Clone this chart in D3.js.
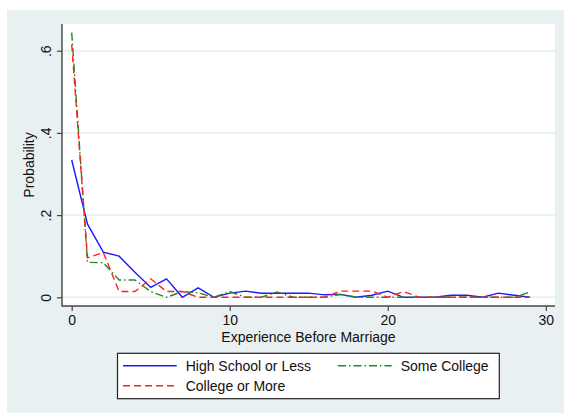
<!DOCTYPE html>
<html>
<head>
<meta charset="utf-8">
<script src="https://cdn.jsdelivr.net/npm/d3@7"></script>
<style>
  html, body { margin: 0; padding: 0; background: #ffffff; }
  svg { display: block; font-family: "Liberation Sans", Arial, sans-serif; }
</style>
</head>
<body>
<svg id="chart" width="564" height="413"></svg>
<script>
// Experience before marriage (years)
const experience = d3.range(0, 30);

// Probability by education group
const highSchoolOrLess = [0.334, 0.178, 0.110, 0.100, 0.061, 0.024, 0.045, 0.000, 0.023, 0.000,
                          0.010, 0.015, 0.010, 0.010, 0.010, 0.010, 0.006, 0.007, 0.000, 0.005,
                          0.015, 0.000, 0.000, 0.000, 0.005, 0.005, 0.000, 0.010, 0.005, 0.000];
const someCollege      = [0.644, 0.085, 0.084, 0.042, 0.042, 0.014, 0.000, 0.014, 0.011, 0.000,
                          0.014, 0.000, 0.000, 0.013, 0.000, 0.000, 0.000, 0.007, 0.000, 0.000,
                          0.000, 0.000, 0.000, 0.000, 0.000, 0.000, 0.000, 0.000, 0.000, 0.013];
const collegeOrMore    = [0.615, 0.096, 0.109, 0.014, 0.014, 0.045, 0.014, 0.014, 0.000, 0.000,
                          0.000, 0.000, 0.000, 0.000, 0.000, 0.000, 0.000, 0.015, 0.015, 0.015,
                          0.000, 0.014, 0.000, 0.000, 0.000, 0.000, 0.000, 0.000, 0.000, 0.000];

const seriesNames = ["High School or Less", "Some College", "College or More"];

const xTicks = [0, 10, 20, 30];
const yTicks = [0, 0.2, 0.4, 0.6];
const yTickLabels = ["0", ".2", ".4", ".6"];

const xTitle = "Experience Before Marriage";
const yTitle = "Probability";

// ---- layout ----
const svg = d3.select("#chart");
const plot = { left: 62, right: 555, top: 24, bottom: 306 };

const x = d3.scaleLinear().domain([-0.614, 30.58]).range([plot.left, plot.right]);
const y = d3.scaleLinear().domain([-0.0212, 0.665]).range([plot.bottom, plot.top]);

// graph region background
svg.append("rect")
  .attr("x", 7).attr("y", 10).attr("width", 557).attr("height", 403)
  .attr("fill", "#e8f0f2");

// plot region
svg.append("rect")
  .attr("x", plot.left).attr("y", plot.top)
  .attr("width", plot.right - plot.left).attr("height", plot.bottom - plot.top)
  .attr("fill", "#ffffff");

// horizontal grid lines
svg.append("g").selectAll("line").data(yTicks).join("line")
  .attr("x1", plot.left).attr("x2", plot.right)
  .attr("y1", d => y(d)).attr("y2", d => y(d))
  .attr("stroke", "#e6eef0").attr("stroke-width", 1.5);

// series lines
const series = [
  { name: seriesNames[0], values: highSchoolOrLess, color: "#1a1aff", dash: null },
  { name: seriesNames[1], values: someCollege,      color: "#1f8a1f", dash: "8,3,1.5,3" },
  { name: seriesNames[2], values: collegeOrMore,    color: "#ff2020", dash: "7,4" }
];

const line = d3.line()
  .x((d, i) => x(experience[i]))
  .y(d => y(d));

svg.append("g").selectAll("path").data(series).join("path")
  .attr("d", s => line(s.values))
  .attr("fill", "none")
  .attr("stroke", s => s.color)
  .attr("stroke-width", 1.4)
  .attr("stroke-dasharray", s => s.dash);

// x axis
const xAxis = svg.append("g")
  .attr("transform", `translate(0,${plot.bottom})`)
  .call(d3.axisBottom(x).tickValues(xTicks).tickSize(5).tickPadding(4).tickFormat(d3.format("d")));
xAxis.select(".domain").remove();
xAxis.selectAll(".tick line").attr("stroke", "#444").attr("stroke-width", 1.2);
xAxis.selectAll(".tick text")
  .attr("font-size", 14).attr("fill", "#111")
  .attr("font-family", "'Liberation Sans', Arial, sans-serif");

// y axis
const yAxis = svg.append("g")
  .attr("transform", `translate(${plot.left},0)`)
  .call(d3.axisLeft(y).tickValues(yTicks).tickSize(5)
    .tickFormat((d, i) => yTickLabels[i]));
yAxis.select(".domain").remove();
yAxis.selectAll(".tick line").attr("stroke", "#444").attr("stroke-width", 1.2);
yAxis.selectAll(".tick text")
  .attr("transform", "rotate(-90)")
  .attr("x", 0).attr("y", -11.5).attr("dy", null)
  .attr("text-anchor", "middle")
  .attr("font-size", 14).attr("fill", "#111")
  .attr("font-family", "'Liberation Sans', Arial, sans-serif");

// axis lines
svg.append("line")
  .attr("x1", plot.left).attr("x2", plot.left)
  .attr("y1", plot.top).attr("y2", plot.bottom + 0.6)
  .attr("stroke", "#444").attr("stroke-width", 1.4);
svg.append("line")
  .attr("x1", plot.left).attr("x2", plot.right)
  .attr("y1", plot.bottom).attr("y2", plot.bottom)
  .attr("stroke", "#444").attr("stroke-width", 1.4);

// axis titles
svg.append("text")
  .attr("x", (plot.left + plot.right) / 2).attr("y", 342)
  .attr("text-anchor", "middle").attr("font-size", 14).attr("fill", "#111")
  .text(xTitle);
svg.append("text")
  .attr("transform", `translate(34,${(plot.top + plot.bottom) / 2}) rotate(-90)`)
  .attr("text-anchor", "middle").attr("font-size", 14).attr("fill", "#111")
  .text(yTitle);

// legend
const legend = svg.append("g");
legend.append("rect")
  .attr("x", 117.5).attr("y", 353.3).attr("width", 381.8).attr("height", 45.4)
  .attr("fill", "#ffffff").attr("stroke", "#222").attr("stroke-width", 1.2);

const legendPos = [
  { kx: 123, tx: 185.7, y: 365.7 },
  { kx: 338, tx: 400.7, y: 365.7 },
  { kx: 123, tx: 185.7, y: 385.7 }
];

series.forEach((s, i) => {
  const p = legendPos[i];
  legend.append("line")
    .attr("x1", p.kx).attr("x2", p.kx + 53.7)
    .attr("y1", p.y).attr("y2", p.y)
    .attr("stroke", s.color).attr("stroke-width", 1.4)
    .attr("stroke-dasharray", s.dash);
  legend.append("text")
    .attr("x", p.tx).attr("y", p.y + 5)
    .attr("font-size", 14).attr("fill", "#111")
    .text(s.name);
});
</script>
</body>
</html>
